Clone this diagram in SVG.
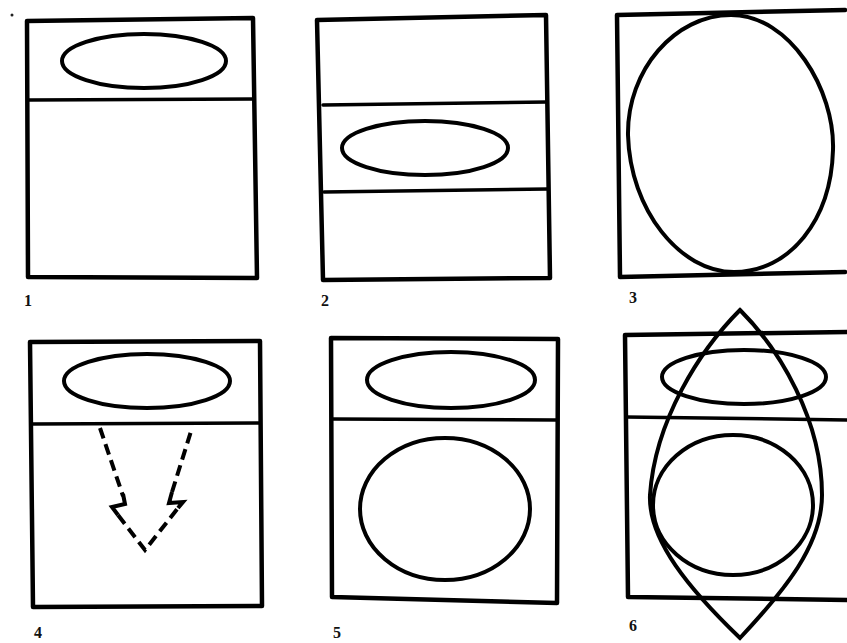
<svg xmlns="http://www.w3.org/2000/svg" width="847" height="643" viewBox="0 0 847 643">
<style>
.box{fill:none;stroke:#000;stroke-width:4.5;stroke-linejoin:round;stroke-linecap:round}
.ln{fill:none;stroke:#000;stroke-width:3.5;stroke-linecap:round}
.ov{fill:none;stroke:#000;stroke-width:4}
.dash{fill:none;stroke:#000;stroke-width:4;stroke-dasharray:11 6}
.jog{fill:none;stroke:#000;stroke-width:4;stroke-linejoin:miter}
.lbl{font-family:"Liberation Serif",serif;font-weight:bold;font-size:16px;fill:#111}
</style>
<rect width="847" height="643" fill="#fff"/>
<circle cx="12" cy="15" r="1.5" fill="#222"/>
<g id="panel1">
<path class="box" d="M27,21 L253,18 L257,278 L28,277 Z"/>
<path class="ln" d="M29,100 L254,99"/>
<ellipse class="ov" cx="144" cy="61" rx="82" ry="27"/>
<text class="lbl" x="24" y="306">1</text>
</g>
<g id="panel2">
<path class="box" d="M317,20 L546,15 L550,278 L323,280 Z"/>
<path class="ln" d="M323,105 L547,102"/>
<path class="ln" d="M324,192 L548,189"/>
<ellipse class="ov" cx="425" cy="148" rx="83" ry="27"/>
<text class="lbl" x="321" y="306">2</text>
</g>
<g id="panel3">
<path class="box" d="M845,10 L617,15 L620,277 L845,272"/>
<path class="ov" d="M731,15 C790,15 835,90 833,150 C831,220 790,272 734,272 C680,272 630,210 628,135 C627,70 675,15 731,15 Z"/>
<text class="lbl" x="629" y="303">3</text>
</g>
<g id="panel4">
<path class="box" d="M30,342 L260,341 L262,606 L33,607 Z"/>
<path class="ln" d="M33,424 L260,423"/>
<ellipse class="ov" cx="147" cy="381" rx="83" ry="27"/>
<text class="lbl" x="34" y="638">4</text>
</g>
<g id="panel5">
<path class="box" d="M331,338 L558,339 L557,603 L332,597 Z"/>
<path class="ln" d="M332,419 L557,420"/>
<ellipse class="ov" cx="451" cy="380" rx="84" ry="28"/>
<ellipse class="ov" cx="445" cy="509" rx="85" ry="71"/>
<text class="lbl" x="333" y="638">5</text>
</g>
<g id="panel6">
<path class="box" d="M847,332 L625,335 L628,597 L847,600"/>
<path class="ln" d="M626,417 L847,420"/>
<ellipse class="ov" cx="744" cy="377" rx="82" ry="27"/>
<ellipse class="ov" cx="733" cy="505" rx="80" ry="70"/>
<path class="ov" d="M740,310 C700,350 655,420 650,495 C648,540 690,590 740,638 C785,590 822,545 822,495 C822,420 780,350 740,310 Z"/>
<text class="lbl" x="629" y="631">6</text>
</g>
<g id="connectors">
<path class="dash" d="M100,428 L123,496"/>
<path class="jog" d="M123,494 L125,504 L112,507 L118,515"/>
<path class="dash" d="M118,515 L145,550 L178,508"/>
<path class="jog" d="M178,508 L183,502 L169,503 L172,492"/>
<path class="dash" d="M172,492 L192,428"/>
</g>
</svg>
